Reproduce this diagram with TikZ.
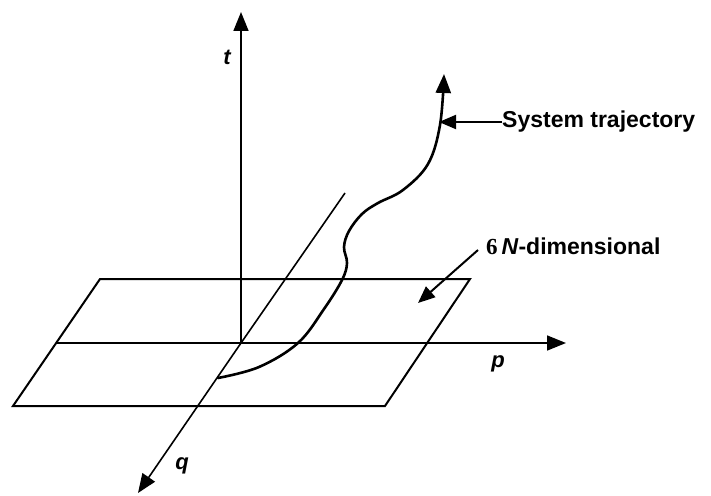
\documentclass[tikz,border=0pt]{standalone}
\usepackage{fontspec}
\setmainfont{Liberation Sans}
\newfontfamily\digitfont{Liberation Serif}
\usetikzlibrary{arrows.meta}
\begin{document}
\begin{tikzpicture}[x=1pt,y=-1pt,
  axis/.style={line width=1.6pt,-{Triangle[length=19pt,width=15pt]}},
  plane/.style={line width=2pt,line join=miter},
  traj/.style={line width=2.6pt,line cap=round,-{Triangle[length=19pt,width=15pt]}},
  pointer/.style={line width=2pt,-{Triangle[length=17pt,width=14pt]}},
  axlabel/.style={font=\fontsize{22}{22}\selectfont\bfseries\itshape,inner sep=0pt},
  callout/.style={font=\fontsize{23}{23}\selectfont\bfseries,inner sep=0pt,anchor=west}]
\useasboundingbox (0,0) rectangle (711,495);
% plane
\coordinate (A) at (100,279);
\coordinate (B) at (470,279);
\coordinate (C) at (385,406);
\coordinate (D) at (13,406);
\draw[plane] (A) -- (B) -- (C) -- (D) -- cycle;
% axes
\coordinate (O) at (241,343);
\coordinate (ttip) at (241,12);
\coordinate (pstart) at (56,343);
\coordinate (ptip) at (566,343);
\coordinate (qtop) at (345,193);
\coordinate (qtip) at (138,493);
\draw[axis] (O) -- (ttip);
\draw[axis] (pstart) -- (ptip);
\draw[line width=1.6pt] (qtop) -- (O);
\draw[axis] (O) -- (qtip);
\node[axlabel] (tlab) at (227,57) {t};
\node[axlabel] (plab) at (498,364) {p};
\node[axlabel] (qlab) at (182,466) {q};
% trajectory
\draw[traj] plot[smooth,tension=0.6] coordinates {(218,378) (259,367) (298,343) (324,309) (342,280) (347,263) (344,247) (349,231) (362,214) (378,203) (403,190) (428,164) (440,125) (444,74)};
% callouts
\node[callout] (systxt) at (502,122) {System trajectory};
\coordinate (systip) at (439,122);
\draw[pointer] (systxt.west) -- (systip);
\node[callout] (dimtxt) at (486,246) {{\digitfont\selectfont\upshape 6}\,\textit{N}-dimensional};
\coordinate (dimstart) at (478,250);
\coordinate (dimtip) at (418,303);
\draw[pointer] (dimstart) -- (dimtip);
\end{tikzpicture}
\end{document}
